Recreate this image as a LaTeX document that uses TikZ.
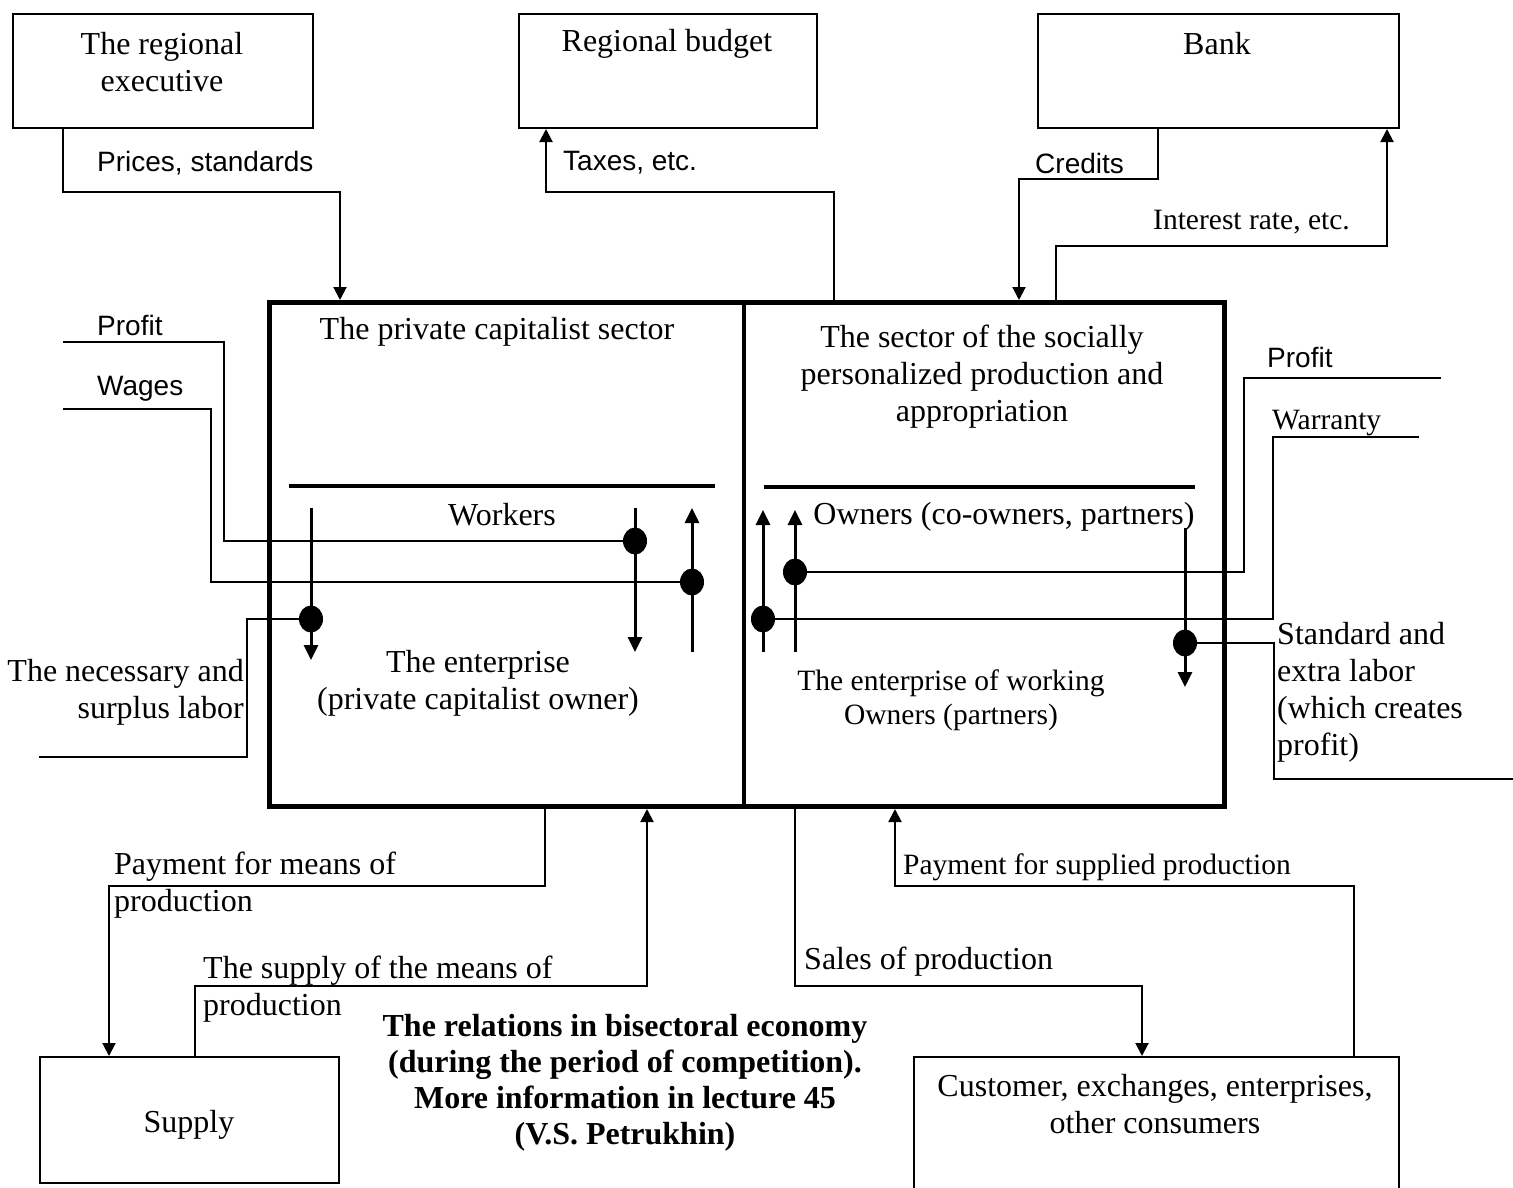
\documentclass[tikz,border=0pt]{standalone}
\usepackage{fontspec}
\setmainfont{Liberation Serif}
\setsansfont{Liberation Sans}
\usetikzlibrary{arrows.meta,positioning,shapes.geometric}

\tikzset{
  box/.style={draw, line width=2pt, inner sep=0pt, anchor=north west},
  flow/.style={line width=2pt},
  arr/.style={flow, -{Triangle[length=13pt,width=13pt]}},
  stem/.style={line width=3pt, -{Triangle[length=15pt,width=14pt]}},
  dot/.style={ellipse, fill, inner sep=0pt, minimum width=24pt, minimum height=27pt},
  txt/.style={font=\fontsize{32}{37}\selectfont, align=center, inner sep=0pt},
  sml/.style={font=\fontsize{29.5}{34}\selectfont, align=center, inner sep=0pt},
  lbl/.style={font=\sffamily\fontsize{28}{32}\selectfont, inner sep=0pt, anchor=west},
}

\begin{document}
\begin{tikzpicture}[x=1pt, y=-1pt]
      \useasboundingbox (0,0) rectangle (1513,1187);

      % Outer boxes
      \node[box, minimum width=300pt, minimum height=114pt] (exec) at (12,13) {};
      \node[box, minimum width=298pt, minimum height=114pt] (budget) at (518,13) {};
      \node[box, minimum width=361pt, minimum height=114pt] (bank) at (1037,13) {};
      \node[box, minimum width=299pt, minimum height=126pt] (supply) at (39,1056) {};
      \node[box, minimum width=485pt, minimum height=145pt] (cust) at (913,1056) {};
      \node[txt] (execT) at (162,62) {The regional\\executive};
      \node[txt] (budgetT) at (667,44) {Regional budget};
      \node[txt] (bankT) at (1217,44) {Bank};
      \node[txt] (supplyT) at (189,1125) {Supply};
      \node[txt] (custT) at (1155,1104) {Customer, exchanges, enterprises,\\other consumers};

      % Two sector box
      \node[box, line width=5pt, minimum width=955pt, minimum height=504pt] (main) at (267,300) {};
      \draw[line width=3.5pt] (main.north -| 744,0) -- (main.south -| 744,0);
      \draw[line width=4pt] (289,486) -- (715,486);
      \draw[line width=4pt] (764,487) -- (1195,487);
      \node[txt] (privT) at (497,332) {The private capitalist sector};
      \node[txt] (workT) at (502,515) {Workers};
      \node[txt] (entT) at (478,683) {The enterprise\\(private capitalist owner)};
      \node[txt] (socT) at (982,377) {The sector of the socially\\personalized production and\\appropriation};
      \node[txt] (ownT) at (1004,517) {Owners (co-owners, partners)};
      \node[sml] (entWT) at (951,700) {The enterprise of working\\Owners (partners)};

      % Top connectors
      \draw[arr] (exec.south -| 63,0) |- (340,192) -- (main.north -| 340,0);
      \draw[arr] (main.north -| 834,0) |- (546,192) -- (budget.south -| 546,0);
      \draw[arr] (bank.south -| 1158,0) |- (1019,179) -- (main.north -| 1019,0);
      \draw[arr] (main.north -| 1056,0) |- (1387,246) -- (bank.south -| 1387,0);
      \node[lbl] (pricesL) at (97,163) {Prices, standards};
      \node[lbl] (taxesL) at (563,163) {Taxes, etc.};
      \node[lbl] (creditsL) at (1035,163) {Credits};
      \node[sml, anchor=west] (interestL) at (1153,222) {Interest rate, etc.};

      % Left sector flows
      \node[dot] (dN) at (311,619) {};
      \node[dot] (dP) at (635,541) {};
      \node[dot] (dW) at (692,582) {};
      \draw[stem] (dN |- 0,508) -- (dN |- 0,660);
      \draw[stem] (dP |- 0,508) -- (dP |- 0,652);
      \draw[stem] (dW |- 0,652) -- (dW |- 0,508);
      \coordinate (profitL) at (63,342);
      \coordinate (wagesL) at (63,409);
      \coordinate (laborL) at (39,757);
      \draw[flow] (profitL) -| (224,0 |- dP) -- (dP);
      \draw[flow] (wagesL) -| (211,0 |- dW) -- (dW);
      \draw[flow] (laborL) -| (247,0 |- dN) -- (dN);
      \node[lbl] (profitLL) at (97,325) {Profit};
      \node[lbl] (wagesLL) at (97,389) {Wages};
      \node[txt, anchor=east, align=right] (labT) at (244,692) {The necessary and\\surplus labor};

      % Right sector flows
      \node[dot] (dWa) at (763,619) {};
      \node[dot] (dPr) at (795,572) {};
      \node[dot] (dS) at (1185,643) {};
      \draw[stem] (dWa |- 0,652) -- (dWa |- 0,510);
      \draw[stem] (dPr |- 0,652) -- (dPr |- 0,510);
      \draw[stem] (dS |- 0,528) -- (dS |- 0,687);
      \coordinate (profitR) at (1441,378);
      \coordinate (warrR) at (1419,437);
      \coordinate (laborR) at (1513,779);
      \draw[flow] (dPr) -- (1244,0 |- dPr) |- (profitR);
      \draw[flow] (dWa) -- (1273,0 |- dWa) |- (warrR);
      \draw[flow] (dS) -- (1274,0 |- dS) |- (laborR);
      \node[lbl] (profitRL) at (1267,357) {Profit};
      \node[sml, anchor=west] (warrL) at (1272,423) {Warranty};
      \node[txt, anchor=west, align=left] (stdT) at (1277,692) {Standard and\\extra labor\\(which creates\\profit)};

      % Bottom connectors
      \draw[arr] (main.south -| 545,0) |- (109,886) -- (supply.north -| 109,0);
      \draw[arr] (supply.north -| 195,0) |- (647,986) -- (main.south -| 647,0);
      \draw[arr] (main.south -| 795,0) |- (1142,986) -- (cust.north -| 1142,0);
      \draw[arr] (cust.north -| 1354,0) |- (895,886) -- (main.south -| 895,0);
      \node[txt, anchor=west, align=left] (payML) at (114,885) {Payment for means of\\production};
      \node[txt, anchor=west, align=left] (supML) at (203,989) {The supply of the means of\\production};
      \node[txt, anchor=west] (salesL) at (804,962) {Sales of production};
      \node[sml, anchor=west] (paySL) at (903,867) {Payment for supplied production};

      % Caption
      \node[txt, font=\bfseries\fontsize{32}{36}\selectfont] (title) at (625,1083) {The relations in bisectoral economy\\(during the period of competition).\\More information in lecture 45\\(V.S. Petrukhin)};
\end{tikzpicture}
\end{document}
